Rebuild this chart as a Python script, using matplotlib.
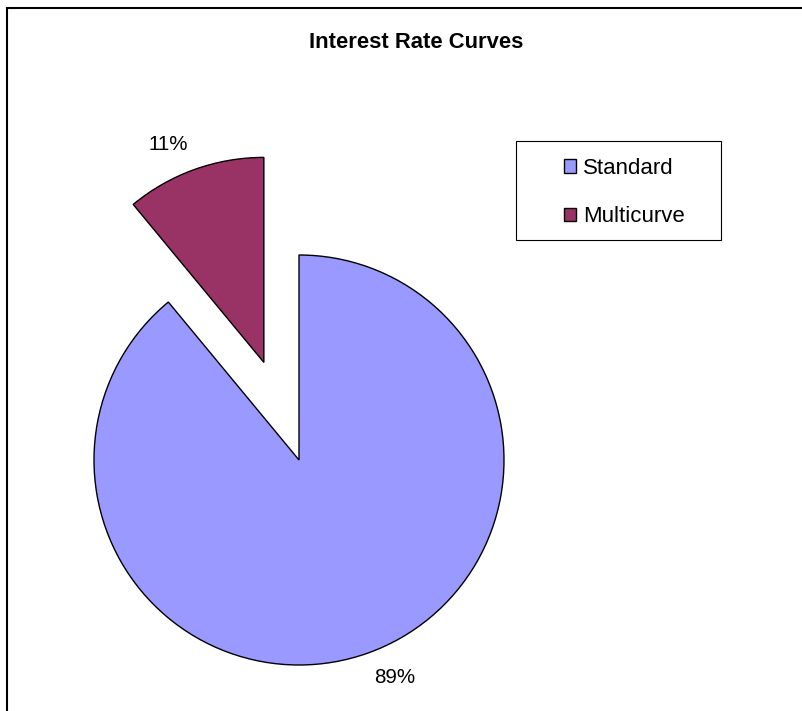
import math
import matplotlib
matplotlib.use("Agg")
import matplotlib.pyplot as plt
from matplotlib.patches import Rectangle

plt.rcParams['font.family'] = ['Liberation Sans', 'DejaVu Sans']

# ---- data ----
categories = ["Standard", "Multicurve"]
values = [89, 11]
colors = ["#9999FF", "#993366"]
title = "Interest Rate Curves"

W, H = 803, 711
fig = plt.figure(figsize=(W / 100, H / 100), dpi=100)
ax = fig.add_axes([0, 0, 1, 1])

R = 205
cx, cy = 299, H - 460
wedges, texts, autotexts = ax.pie(
    values, colors=colors, startangle=90, counterclock=False,
    center=(cx, cy), radius=R, explode=[0, 0.506 * R],
    autopct='%1.0f%%', pctdistance=1.16,
    wedgeprops=dict(edgecolor='black', linewidth=1.0),
    textprops=dict(fontsize=14.8, color='black'))
ax.set_xlim(0, W)
ax.set_ylim(0, H)
ax.set_aspect('equal')
ax.axis('off')

# rotate percentage labels slightly counter-clockwise around wedge centre
rot = math.radians(4)
for w, t in zip(wedges, autotexts):
    wx, wy = w.center
    x, y = t.get_position()
    dx, dy = x - wx, y - wy
    t.set_position((wx + dx * math.cos(rot) - dy * math.sin(rot),
                    wy + dx * math.sin(rot) + dy * math.cos(rot)))
    t.set_ha('center'); t.set_va('center')

fig.text(416.5 / W, 1 - 42 / H, title, ha='center', va='center',
         fontsize=15.8, fontweight='bold')

leg = fig.legend(wedges, categories, loc='upper left',
                 bbox_to_anchor=(564 / W, 1 - 158 / H),
                 frameon=False, borderpad=0, borderaxespad=0,
                 fontsize=16, handlelength=0.55, handleheight=0.55,
                 handletextpad=0.3, labelspacing=1.22)

fig.canvas.draw()
ext = leg.get_window_extent()
fig.patches.append(Rectangle((ext.x0 - 48, ext.y0 - 13), ext.width + 48 + 36,
                             ext.height + 13 + 17, transform=None, fill=False,
                             edgecolor='black', linewidth=0.8))

# outer chart border (cropped on right and bottom)
fig.patches.append(Rectangle((7 / W, -0.1), 1.2, (H - 8) / H + 0.1,
                             transform=fig.transFigure, fill=False,
                             edgecolor='black', linewidth=1.5))

fig.savefig("out.png", dpi=100)
